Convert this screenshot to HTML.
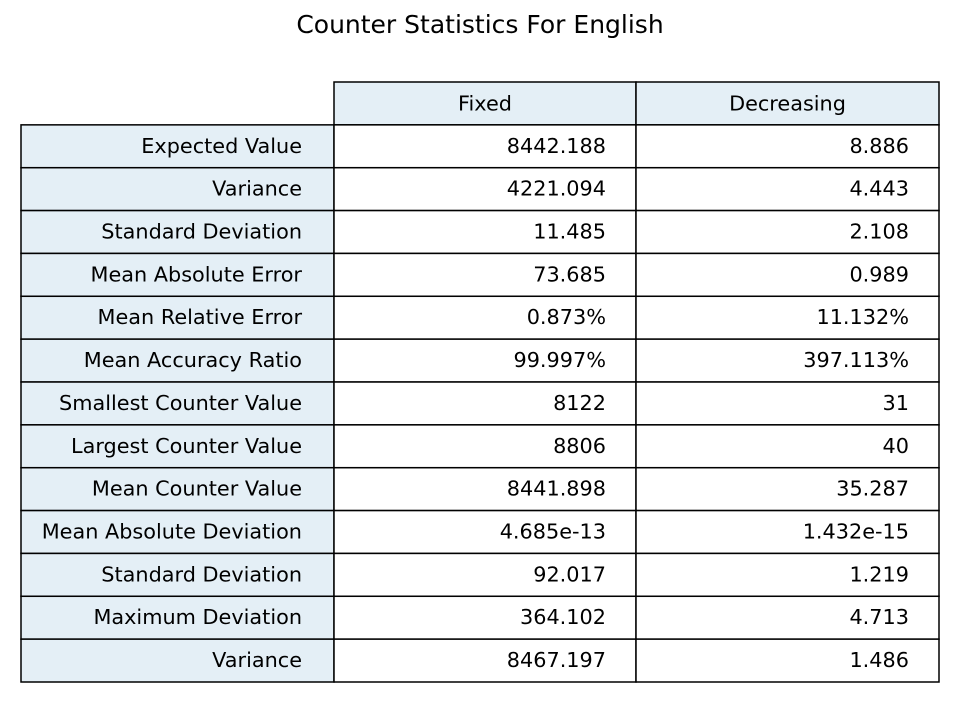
<!DOCTYPE html>
<html><head><meta charset="utf-8"><style>
html,body{margin:0;padding:0;background:#fff;}
svg{display:block;font-family:"DejaVu Sans","Liberation Sans",sans-serif;}
</style></head><body>
<svg id="chart" width="960" height="720">
<text x="480" y="33" text-anchor="middle" font-size="25" fill="#000">Counter Statistics For English</text>
<g id="tbl"></g>
</svg>
<script>
const colLabels = ["Fixed","Decreasing"];
const rowLabels = ["Expected Value","Variance","Standard Deviation","Mean Absolute Error","Mean Relative Error","Mean Accuracy Ratio","Smallest Counter Value","Largest Counter Value","Mean Counter Value","Mean Absolute Deviation","Standard Deviation","Maximum Deviation","Variance"];
const fixedVals = ["8442.188","4221.094","11.485","73.685","0.873%","99.997%","8122","8806","8441.898","4.685e-13","92.017","364.102","8467.197"];
const decreasingVals = ["8.886","4.443","2.108","0.989","11.132%","397.113%","31","40","35.287","1.432e-15","1.219","4.713","1.486"];

const NS="http://www.w3.org/2000/svg";
const tg=document.getElementById('tbl');
const colX=[21,334,636,939];
const tTop=82, tBottom=682;
const rh=(tBottom-tTop)/(rowLabels.length+1);
const fillC="#e4eff6";
const FS=20.8;
function mkRect(x,y,w,h,f){const r=document.createElementNS(NS,'rect');r.setAttribute('x',x);r.setAttribute('y',y);r.setAttribute('width',w);r.setAttribute('height',h);r.setAttribute('fill',f);r.setAttribute('stroke','#000');r.setAttribute('stroke-width','1.5');tg.appendChild(r);return r;}
function mkText(x,y,s,anchor){const t=document.createElementNS(NS,'text');t.setAttribute('x',x);t.setAttribute('y',y);t.setAttribute('text-anchor',anchor);t.setAttribute('font-size',FS);t.setAttribute('fill','#000');t.textContent=s;tg.appendChild(t);return t;}
colLabels.forEach((c,i)=>{
  const r=mkRect(colX[i+1],tTop,colX[i+2]-colX[i+1],rh,fillC);
  
  
  const t=mkText((colX[i+1]+colX[i+2])/2,tTop+rh/2+7,c,'middle');
  
  
});
rowLabels.forEach((lab,j)=>{
  const y=tTop+rh*(j+1);
  const r=mkRect(colX[0],y,colX[1]-colX[0],rh,fillC);
  
  
  const t=mkText(colX[1]-32,y+rh/2+6.5,lab,'end');
  
  
  [fixedVals[j],decreasingVals[j]].forEach((v,i)=>{
    const c=mkRect(colX[i+1],y,colX[i+2]-colX[i+1],rh,'#fff');
    
    
    const vt=mkText(colX[i+2]-30,y+rh/2+6.5,v,'end');
    
    
  });
});
</script>
</body></html>
